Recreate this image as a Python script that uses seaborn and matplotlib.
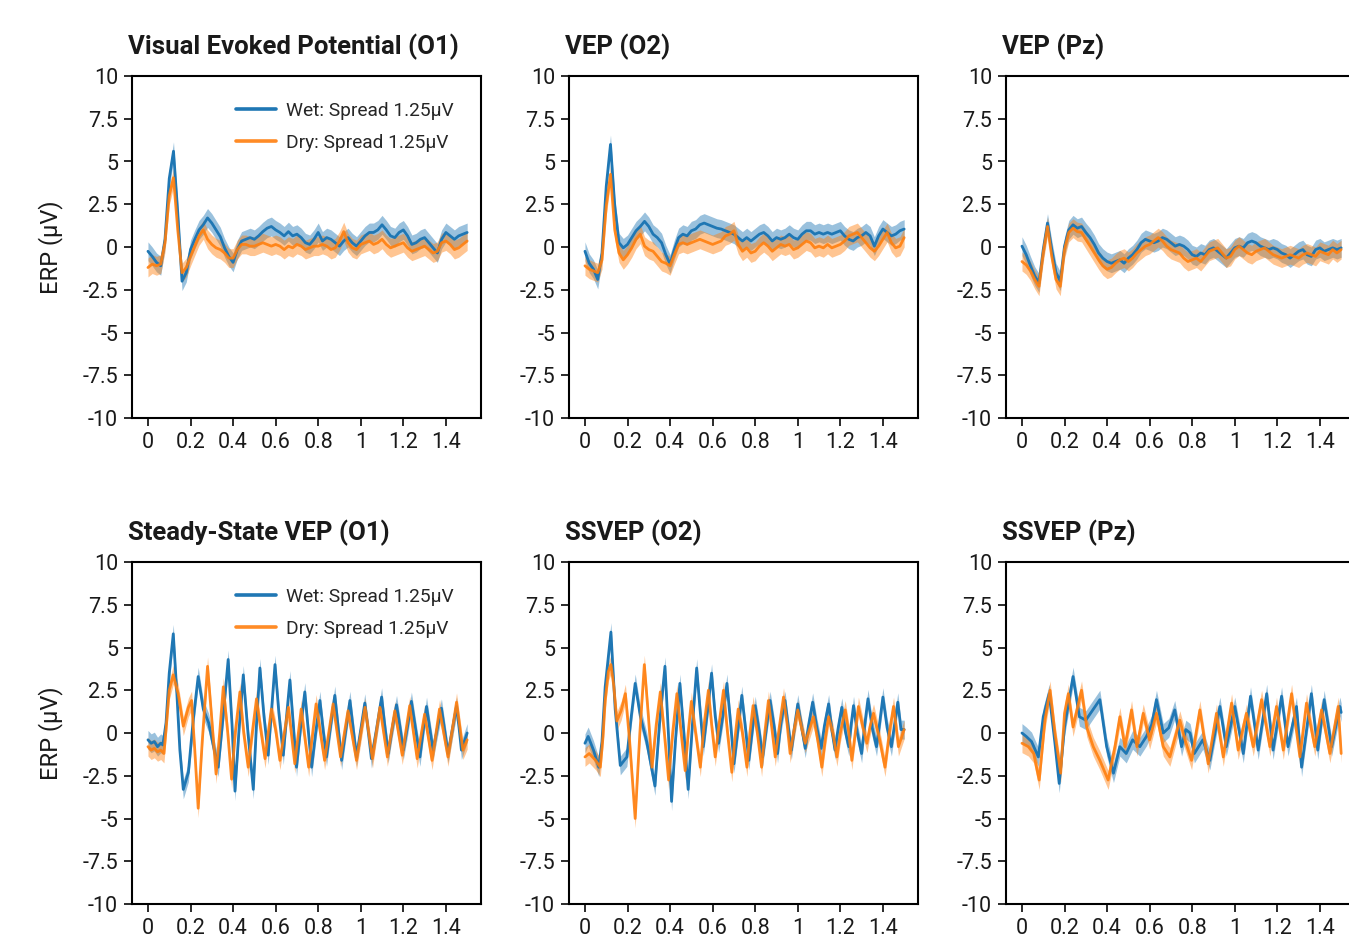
import numpy as np
import matplotlib
matplotlib.use("Agg")
import matplotlib.pyplot as plt
import seaborn as sns

# ---------------- data ----------------
T_VEP = np.round(np.arange(76) * 0.02, 4)

VEP_O1_WET = [-0.25,-0.55,-0.9,-1.1,0.45,4.0,5.6,2.0,-2.0,-1.5,
              -0.15,0.45,1.0,1.3,1.7,1.4,1.0,0.6,-0.05,-0.55,
              -0.9,-0.15,0.35,0.45,0.55,0.45,0.65,0.9,1.1,1.2,
              1.0,0.85,0.65,0.9,0.65,0.75,0.55,0.25,0.15,0.45,
              0.85,0.35,0.55,0.45,0.25,0.05,0.35,0.55,0.25,0.05,
              0.35,0.65,0.85,0.85,1.0,1.3,1.0,0.65,0.55,0.85,
              1.0,0.65,0.15,0.25,0.45,0.55,0.25,-0.05,-0.35,0.45,
              0.85,0.65,0.45,0.65,0.75,0.85]
VEP_O1_DRY = [-1.2,-1.0,-1.1,-1.0,0.25,3.0,4.05,1.0,-1.5,-1.2,
              -0.55,0.05,0.65,1.0,0.45,0.15,-0.05,-0.15,-0.35,-0.65,
              -0.65,-0.15,0.15,0.15,0.05,0.05,0.15,0.25,0.15,0.05,
              0.15,0.05,-0.15,0.05,-0.05,0.15,0.05,-0.15,-0.05,0.05,
              0.05,0.15,0.05,-0.15,-0.05,0.35,0.9,0.25,-0.05,-0.15,
              0.15,0.25,0.35,0.15,0.25,0.45,0.15,-0.05,0.05,0.15,
              0.25,-0.05,-0.25,-0.15,-0.05,0.05,-0.15,-0.35,-0.25,0.25,
              0.35,0.15,-0.15,-0.05,0.15,0.35]
VEP_O2_WET = [-0.25,-0.95,-1.3,-1.9,-0.35,3.55,6.0,2.4,0.25,-0.05,
              0.15,0.55,0.95,1.2,1.5,1.2,0.75,0.55,0.25,-0.45,
              -1.0,-0.15,0.55,0.75,0.65,0.95,1.05,1.3,1.4,1.3,
              1.2,1.1,1.05,0.95,0.85,0.75,0.55,0.35,0.55,0.35,
              0.55,0.75,0.85,0.65,0.35,0.55,0.45,0.55,0.75,0.55,
              0.45,0.75,0.95,0.95,0.75,0.85,0.75,0.85,0.75,0.85,
              0.95,0.65,0.45,0.35,0.55,0.65,0.85,0.65,0.05,0.65,
              1.05,0.85,0.65,0.75,0.95,1.05]
VEP_O2_DRY = [-1.1,-1.3,-1.4,-1.5,-0.75,2.4,4.25,1.0,-0.35,-0.75,
              -0.45,-0.05,0.45,0.75,0.05,-0.15,-0.25,-0.55,-0.85,-0.95,
              -1.1,-0.45,0.15,0.25,0.15,0.25,0.35,0.45,0.35,0.25,
              0.15,0.25,0.35,0.65,0.75,0.95,0.15,-0.25,-0.05,-0.35,
              -0.25,0.05,0.25,0.05,-0.25,-0.05,0.15,0.05,0.15,-0.15,
              -0.05,0.15,0.35,0.25,-0.05,0.05,-0.05,0.15,-0.05,0.05,
              0.15,0.35,0.65,0.75,0.85,0.55,0.25,-0.05,-0.25,0.05,
              0.45,0.85,0.25,-0.05,0.05,0.55]
VEP_PZ_WET = [0.05,-0.45,-1.1,-1.7,-2.1,-0.15,1.4,-0.15,-1.5,-2.0,
              0.05,1.0,1.3,1.1,1.2,0.85,0.55,0.15,-0.35,-0.65,
              -0.85,-0.95,-0.85,-0.75,-0.95,-0.65,-0.45,-0.15,0.25,0.45,
              0.35,0.25,0.35,0.55,0.45,0.25,0.05,0.15,0.05,-0.15,
              -0.45,-0.55,-0.35,-0.45,-0.15,-0.05,-0.25,-0.45,-0.65,-0.35,
              -0.05,0.05,-0.05,0.25,0.35,0.25,0.05,-0.05,-0.15,-0.05,
              -0.15,-0.35,-0.45,-0.65,-0.45,-0.25,-0.15,-0.45,-0.55,-0.15,
              -0.05,-0.25,-0.15,-0.05,-0.15,-0.05]
VEP_PZ_DRY = [-0.85,-1.05,-1.4,-1.9,-2.3,-0.35,1.2,-0.55,-1.9,-2.3,
              -0.15,0.85,1.1,0.9,0.85,0.45,0.05,-0.35,-0.75,-1.1,
              -1.3,-1.2,-0.95,-0.75,-0.65,-0.85,-0.65,-0.35,-0.15,0.05,
              0.15,0.35,0.55,0.35,0.05,-0.15,-0.25,-0.35,-0.65,-0.85,
              -0.75,-0.65,-0.85,-0.55,-0.25,-0.15,-0.05,-0.35,-0.65,-0.55,
              -0.15,0.05,-0.15,-0.35,-0.45,-0.25,-0.15,-0.05,-0.25,-0.45,
              -0.55,-0.65,-0.55,-0.45,-0.55,-0.65,-0.45,-0.35,-0.45,-0.55,
              -0.25,-0.35,-0.45,-0.15,-0.35,-0.15]

T_SS_O1_WET = [0,0.015,0.03,0.045,0.06,0.07,0.085,0.1,0.119,0.135,
               0.15,0.166,0.19,0.213,0.236,0.26,0.285,0.305,0.33,0.355,
               0.377,0.395,0.409,0.428,0.448,0.47,0.495,0.51,0.526,0.545,
               0.565,0.58,0.597,0.615,0.636,0.65,0.667,0.683,0.698,0.717,
               0.737,0.753,0.769,0.788,0.808,0.823,0.839,0.858,0.878,0.894,
               0.91,0.93,0.949,0.965,0.98,1.0,1.019,1.035,1.05,1.075,
               1.098,1.113,1.129,1.148,1.168,1.185,1.2,1.22,1.238,1.258,
               1.278,1.293,1.309,1.325,1.34,1.36,1.379,1.395,1.41,1.43,
               1.45,1.462,1.473,1.5]
V_SS_O1_WET = [-0.4,-0.6,-0.5,-0.8,-0.6,-0.7,0.6,3.5,5.8,2.5,
               -1.0,-3.3,-2.3,0.8,3.3,1.4,0.6,-0.6,-2.0,1.2,
               4.3,0.5,-3.4,0.2,3.4,0.0,-3.3,0.5,3.8,1.0,
               -1.3,1.2,4.0,1.2,-1.3,0.8,3.1,0.5,-2.0,0.3,
               2.4,0.2,-2.0,0.0,1.9,0.2,-1.4,0.4,2.2,0.3,
               -1.6,0.2,1.9,0.2,-1.4,0.2,1.75,0.1,-1.5,0.3,
               2.1,0.4,-1.2,0.3,1.65,0.3,-1.0,0.4,1.85,0.2,
               -1.4,0.1,1.55,0.2,-1.0,0.3,1.45,0.1,-1.2,0.2,
               1.55,0.3,-1.0,0.0]
T_SS_O1_DRY = [0,0.015,0.03,0.045,0.06,0.075,0.085,0.1,0.119,0.142,
               0.166,0.19,0.205,0.22,0.236,0.255,0.28,0.3,0.32,0.337,
               0.354,0.375,0.393,0.41,0.432,0.45,0.471,0.49,0.51,0.53,
               0.55,0.565,0.58,0.6,0.62,0.66,0.69,0.72,0.755,0.79,
               0.83,0.87,0.905,0.94,0.98,1.02,1.055,1.09,1.125,1.16,
               1.195,1.23,1.265,1.30,1.335,1.37,1.41,1.45,1.48,1.5]
V_SS_O1_DRY = [-0.8,-1.0,-0.9,-1.1,-1.0,-1.2,0.2,2.5,3.4,2.3,
               0.4,1.5,1.9,-1.0,-4.4,-0.5,3.9,0.8,-2.4,0.0,
               2.7,0.0,-2.7,0.0,2.4,0.0,-2.0,0.0,2.0,0.2,
               -1.5,0.0,1.4,0.2,-1.6,1.5,-1.8,1.4,-2.0,1.7,
               -1.6,1.7,-1.4,1.3,-1.6,1.5,-1.5,1.5,-1.4,1.3,
               -1.3,1.6,-1.5,1.1,-1.6,1.4,-1.4,1.8,-1.0,-0.4]

T_SS_O2_WET = [0,0.015,0.04,0.065,0.08,0.095,0.122,0.142,0.166,0.197,
               0.216,0.236,0.26,0.29,0.329,0.35,0.376,0.392,0.407,0.425,
               0.446,0.465,0.485,0.505,0.525,0.54,0.556,0.575,0.595,0.612,
               0.628,0.648,0.667,0.685,0.70,0.72,0.737,0.755,0.77,0.785,
               0.80,0.82,0.835,0.855,0.87,0.89,0.905,0.92,0.94,0.955,
               0.97,0.985,1.0,1.02,1.035,1.05,1.07,1.09,1.11,1.125,
               1.145,1.16,1.175,1.19,1.207,1.225,1.24,1.25,1.262,1.28,
               1.3,1.315,1.33,1.35,1.37,1.385,1.40,1.42,1.44,1.455,
               1.47,1.485,1.5]
V_SS_O2_WET = [-0.6,-0.2,-1.0,-2.0,-0.5,2.7,5.9,1.4,-1.9,-1.4,
               0.8,2.9,1.0,-0.5,-3.1,0.5,3.9,0.0,-4.0,-0.5,
               2.9,0.0,-3.3,0.5,3.8,1.5,-0.8,1.2,3.5,1.0,
               -0.6,1.0,2.9,0.5,-1.8,0.3,2.2,0.2,-1.6,0.0,
               1.6,0.0,-1.4,0.5,1.9,0.3,-1.2,0.5,1.9,0.4,
               -1.0,0.4,1.7,0.2,-0.9,0.4,1.8,0.3,-0.9,0.4,
               1.7,0.2,-1.0,0.3,1.5,0.0,-0.8,0.4,1.6,0.0,
               -1.2,0.5,2.0,0.3,-0.8,0.6,2.1,0.3,-0.8,0.5,
               1.8,0.2,0.2]
T_SS_O2_DRY = [0,0.02,0.05,0.072,0.085,0.095,0.11,0.122,0.135,0.15,
               0.17,0.19,0.21,0.236,0.258,0.279,0.298,0.315,0.335,0.354,
               0.373,0.393,0.412,0.432,0.452,0.471,0.485,0.50,0.52,0.542,
               0.56,0.58,0.595,0.612,0.63,0.651,0.67,0.69,0.705,0.72,
               0.74,0.761,0.775,0.79,0.81,0.83,0.845,0.862,0.878,0.894,
               0.915,0.933,0.95,0.964,0.98,1.0,1.018,1.035,1.055,1.074,
               1.095,1.113,1.13,1.145,1.165,1.184,1.2,1.223,1.24,1.254,
               1.27,1.285,1.305,1.325,1.34,1.356,1.385,1.41,1.43,1.45,
               1.462,1.473,1.5]
V_SS_O2_DRY = [-1.4,-1.2,-1.6,-2.0,-0.2,1.9,3.6,4.0,2.8,0.7,
               1.3,2.3,-0.5,-5.0,0.0,4.0,1.0,-2.0,0.5,2.4,
               0.0,-2.75,0.0,2.3,0.0,-2.2,0.0,1.85,0.0,-2.0,
               0.5,2.5,0.5,-1.4,0.5,2.5,0.0,-2.3,-0.3,1.4,
               0.0,-2.0,0.0,1.6,0.0,-2.0,0.0,1.9,0.3,-1.4,
               0.5,2.1,0.5,-1.2,0.0,1.35,0.3,-0.6,0.2,0.95,
               -0.5,-2.0,-0.3,0.95,0.0,-1.4,0.0,1.35,0.0,-1.6,
               0.0,1.55,0.4,-0.6,0.4,1.15,-0.4,-2.0,0.0,1.55,
               0.4,-0.8,0.2]

T_SS_PZ_WET = [0,0.02,0.045,0.077,0.1,0.128,0.155,0.175,0.2,0.24,
               0.27,0.30,0.366,0.398,0.43,0.46,0.49,0.52,0.554,0.585,
               0.61,0.632,0.664,0.69,0.718,0.75,0.77,0.79,0.81,0.85,
               0.883,0.93,0.96,1.0,1.04,1.074,1.11,1.15,1.18,1.22,
               1.25,1.29,1.314,1.36,1.39,1.42,1.455,1.494,1.5]
V_SS_PZ_WET = [0.0,-0.2,-0.5,-1.4,0.95,2.3,-0.6,-2.95,0.35,3.3,
               0.95,0.75,1.95,-0.8,-2.35,-0.8,-1.2,-0.4,-0.8,-0.2,
               0.5,1.95,0.0,0.3,1.35,-0.8,0.2,0.0,-1.2,-0.4,
               -1.6,1.55,-0.8,1.55,-1.2,2.15,-1.0,2.3,-1.0,2.15,
               -0.8,1.55,-2.0,2.3,-1.0,1.95,-0.8,1.55,1.2]
T_SS_PZ_DRY = [0,0.03,0.055,0.081,0.108,0.132,0.155,0.182,0.2,0.218,
               0.24,0.28,0.304,0.335,0.366,0.405,0.437,0.46,0.484,0.515,
               0.54,0.57,0.6,0.632,0.664,0.695,0.742,0.766,0.797,0.836,
               0.875,0.914,0.946,0.985,1.016,1.055,1.087,1.126,1.165,1.196,
               1.228,1.267,1.306,1.337,1.376,1.408,1.447,1.486,1.5]
V_SS_PZ_DRY = [-0.6,-0.8,-1.2,-2.75,0.75,2.5,0.0,-2.35,1.15,2.3,
               0.35,2.5,0.35,-0.8,-1.6,-2.75,-0.8,0.95,-0.8,1.35,
               -0.8,1.15,-0.4,1.15,-0.8,-1.4,0.75,-0.4,-1.6,1.35,
               -1.8,1.15,-1.4,1.75,-1.0,1.15,-0.8,1.95,-0.8,1.55,
               -1.0,2.3,-1.4,1.75,-0.8,1.35,-1.2,1.55,-1.2]

SPREAD = [0.55, 0.55, 0.55, 0.55, 0.55, 0.55]   # half-width of shaded band (µV)

TITLES = ["Visual Evoked Potential (O1)", "VEP (O2)", "VEP (Pz)",
          "Steady-State VEP (O1)", "SSVEP (O2)", "SSVEP (Pz)"]
LEGEND_LABELS = ["Wet: Spread 1.25µV", "Dry: Spread 1.25µV"]
Y_TICKS = [10, 7.5, 5, 2.5, 0, -2.5, -5, -7.5, -10]
Y_TICKLABELS = ["10", "7.5", "5", "2.5", "0", "-2.5", "-5", "-7.5", "-10"]
X_TICKS = [0, 0.2, 0.4, 0.6, 0.8, 1.0, 1.2, 1.4]
X_TICKLABELS = ["0", "0.2", "0.4", "0.6", "0.8", "1", "1.2", "1.4"]

PANELS = [
    ((T_VEP, VEP_O1_WET), (T_VEP, VEP_O1_DRY)),
    ((T_VEP, VEP_O2_WET), (T_VEP, VEP_O2_DRY)),
    ((T_VEP, VEP_PZ_WET), (T_VEP, VEP_PZ_DRY)),
    ((T_SS_O1_WET, V_SS_O1_WET), (T_SS_O1_DRY, V_SS_O1_DRY)),
    ((T_SS_O2_WET, V_SS_O2_WET), (T_SS_O2_DRY, V_SS_O2_DRY)),
    ((T_SS_PZ_WET, V_SS_PZ_WET), (T_SS_PZ_DRY, V_SS_PZ_DRY)),
]

# ---------------- style ----------------
sns.set_style("ticks")
plt.rcParams["font.family"] = ["Roboto", "DejaVu Sans"]
plt.rcParams["axes.linewidth"] = 1.5
BLUE = "#1f77b4"
ORANGE = "#ff7f0e"

fig = plt.figure(figsize=(13.49, 9.46), dpi=100)
W, H = 1349.0, 946.0
col_left = [132, 569, 1006]
row_top = [76, 562]
ax_w, ax_h = 349, 342

for i, ((tw, vw), (td, vd)) in enumerate(PANELS):
    r, c = divmod(i, 3)
    ax = fig.add_axes([col_left[c] / W, 1 - (row_top[r] + ax_h) / H, ax_w / W, ax_h / H])
    b = SPREAD[i]
    tw = np.asarray(tw, float); vw = np.asarray(vw, float)
    td = np.asarray(td, float); vd = np.asarray(vd, float)
    ax.fill_between(tw, vw - b, vw + b, color=BLUE, alpha=0.45, lw=0)
    ax.fill_between(td, vd - b, vd + b, color=ORANGE, alpha=0.45, lw=0)
    sns.lineplot(x=tw, y=vw, ax=ax, color=BLUE, lw=2.0, estimator=None, sort=False,
                 label=LEGEND_LABELS[0] if c == 0 else None)
    sns.lineplot(x=td, y=vd, ax=ax, color=ORANGE, lw=2.0, alpha=0.9, estimator=None, sort=False,
                 label=LEGEND_LABELS[1] if c == 0 else None)
    ax.set_xlim(-0.075, 1.565)
    ax.set_ylim(-10, 10)
    ax.set_yticks(Y_TICKS)
    ax.set_yticklabels(Y_TICKLABELS)
    ax.set_xticks(X_TICKS)
    ax.set_xticklabels(X_TICKLABELS)
    ax.tick_params(direction="out", length=6, width=1.3, labelsize=15.5,
                   colors="#1a1a1a", pad=4)
    for s in ax.spines.values():
        s.set_visible(True)
        s.set_color("black")
        s.set_linewidth(1.5)
    ax.set_xlabel("")
    if c == 0:
        ax.set_ylabel("ERP (µV)", fontsize=17, color="#1a1a1a", labelpad=14)
        leg = ax.legend(loc="upper right", frameon=False, fontsize=13.8,
                        handlelength=2.1, handletextpad=0.52, labelspacing=0.75,
                        bbox_to_anchor=(0.972, 0.975))
        for ln in leg.get_lines():
            ln.set_linewidth(2.6)
    else:
        ax.set_ylabel("")
        if ax.get_legend() is not None:
            ax.get_legend().remove()
    ax.text(-0.012, 1.064, TITLES[i], transform=ax.transAxes, ha="left",
            va="baseline", fontsize=18.5, fontweight="bold", color="#1a1a1a")

fig.savefig("out.png", dpi=100)
